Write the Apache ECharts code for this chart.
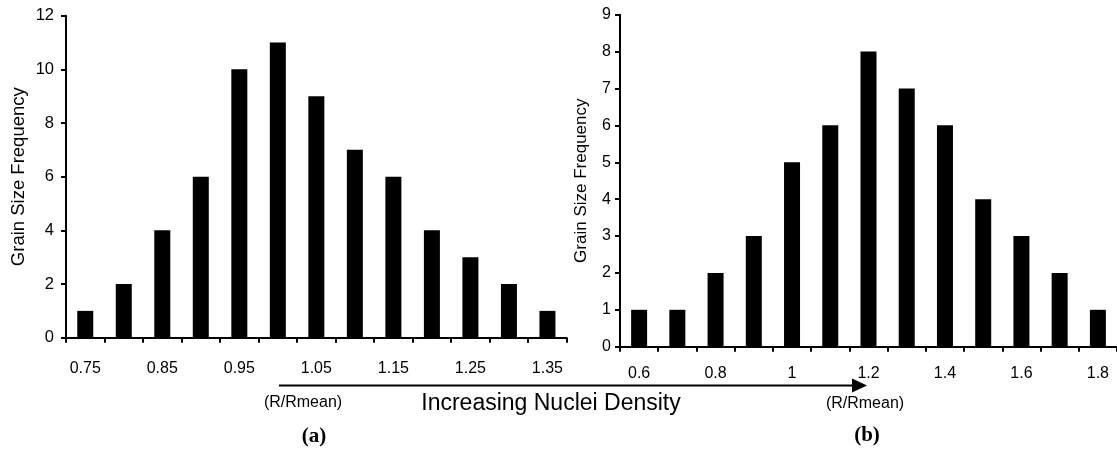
<!DOCTYPE html>
<html>
<head>
<meta charset="utf-8">
<script src="https://cdn.jsdelivr.net/npm/echarts@6/dist/echarts.min.js"></script>
<style>
  html, body { margin: 0; padding: 0; background: #fff; }
  #chart { width: 1117px; height: 454px; }
</style>
</head>
<body>
<div id="chart"></div>
<script>
// Panel (a): normalized grain radius bins and their counts
const binsA = ['0.75', '0.8', '0.85', '0.9', '0.95', '1', '1.05', '1.1', '1.15', '1.2', '1.25', '1.3', '1.35'];
const freqA = [1, 2, 4, 6, 10, 11, 9, 7, 6, 4, 3, 2, 1];

// Panel (b): normalized grain radius bins and their counts
const binsB = ['0.6', '0.7', '0.8', '0.9', '1', '1.1', '1.2', '1.3', '1.4', '1.5', '1.6', '1.7', '1.8'];
const freqB = [1, 1, 2, 3, 5, 6, 8, 7, 6, 4, 3, 2, 1];

const yMaxA = 12, yStepA = 2;
const yMaxB = 9, yStepB = 1;

const yTitle = 'Grain Size Frequency';
const xUnit = '(R/Rmean)';
const trendText = 'Increasing Nuclei Density';
const panelTags = ['(a)', '(b)'];

const FONT = "'Liberation Sans', Arial, sans-serif";
const SERIF = "'Liberation Serif', 'Times New Roman', serif";

const axisLine = { show: true, lineStyle: { color: '#000', width: 2 } };
const axisTick = { show: true, length: 5, lineStyle: { color: '#000', width: 2 } };

function xAxisFor(cats, gridIndex, margin) {
  return {
    type: 'category', gridIndex, data: cats, boundaryGap: true,
    axisLine, axisTick: Object.assign({ interval: 0, alignWithLabel: false }, axisTick),
    axisLabel: { interval: 1, color: '#000', fontFamily: FONT, fontSize: 16, margin },
    splitLine: { show: false }
  };
}

function yAxisFor(max, step, gridIndex, margin, nameGap, nameSize, labelSize) {
  return {
    type: 'value', gridIndex, min: 0, max, interval: step,
    name: yTitle, nameLocation: 'middle', nameRotate: 90, nameGap,
    nameTextStyle: { color: '#000', fontFamily: FONT, fontSize: nameSize },
    axisLine, axisTick,
    axisLabel: { color: '#000', fontFamily: FONT, fontSize: labelSize, margin },
    splitLine: { show: false }
  };
}

const chart = echarts.init(document.getElementById('chart'), null, { renderer: 'canvas' });

chart.setOption({
  animation: false,
  backgroundColor: '#fff',
  grid: [
    { left: 66, top: 15.7, width: 500.7, height: 322 },
    { left: 620, top: 14.7, width: 499.5, height: 332 }
  ],
  xAxis: [xAxisFor(binsA, 0, 23), xAxisFor(binsB, 1, 19)],
  yAxis: [
    yAxisFor(yMaxA, yStepA, 0, 12, 38, 18.5, 16.5),
    yAxisFor(yMaxB, yStepB, 1, 9, 30, 17, 16)
  ],
  series: [
    { type: 'bar', xAxisIndex: 0, yAxisIndex: 0, data: freqA, barWidth: 16,
      itemStyle: { color: '#000' } },
    { type: 'bar', xAxisIndex: 1, yAxisIndex: 1, data: freqB, barWidth: 16,
      itemStyle: { color: '#000' } }
  ],
  graphic: [
    // density trend arrow running under both panels
    { type: 'line', shape: { x1: 279, y1: 385.5, x2: 854, y2: 385.5 },
      style: { stroke: '#000', lineWidth: 2 } },
    { type: 'polygon', shape: { points: [[852, 378.5], [867, 385.5], [852, 392.5]] },
      style: { fill: '#000' } },
    { type: 'text', x: 303, y: 403,
      style: { text: xUnit, fill: '#000', font: '16px ' + FONT, textAlign: 'center', textVerticalAlign: 'middle' } },
    { type: 'text', x: 865, y: 404,
      style: { text: xUnit, fill: '#000', font: '16px ' + FONT, textAlign: 'center', textVerticalAlign: 'middle' } },
    { type: 'text', x: 551, y: 404,
      style: { text: trendText, fill: '#000', font: '23px ' + FONT, textAlign: 'center', textVerticalAlign: 'middle' } },
    { type: 'text', x: 314, y: 437,
      style: { text: panelTags[0], fill: '#000', font: 'bold 21px ' + SERIF, textAlign: 'center', textVerticalAlign: 'middle' } },
    { type: 'text', x: 867, y: 436,
      style: { text: panelTags[1], fill: '#000', font: 'bold 21px ' + SERIF, textAlign: 'center', textVerticalAlign: 'middle' } }
  ]
});
</script>
</body>
</html>
